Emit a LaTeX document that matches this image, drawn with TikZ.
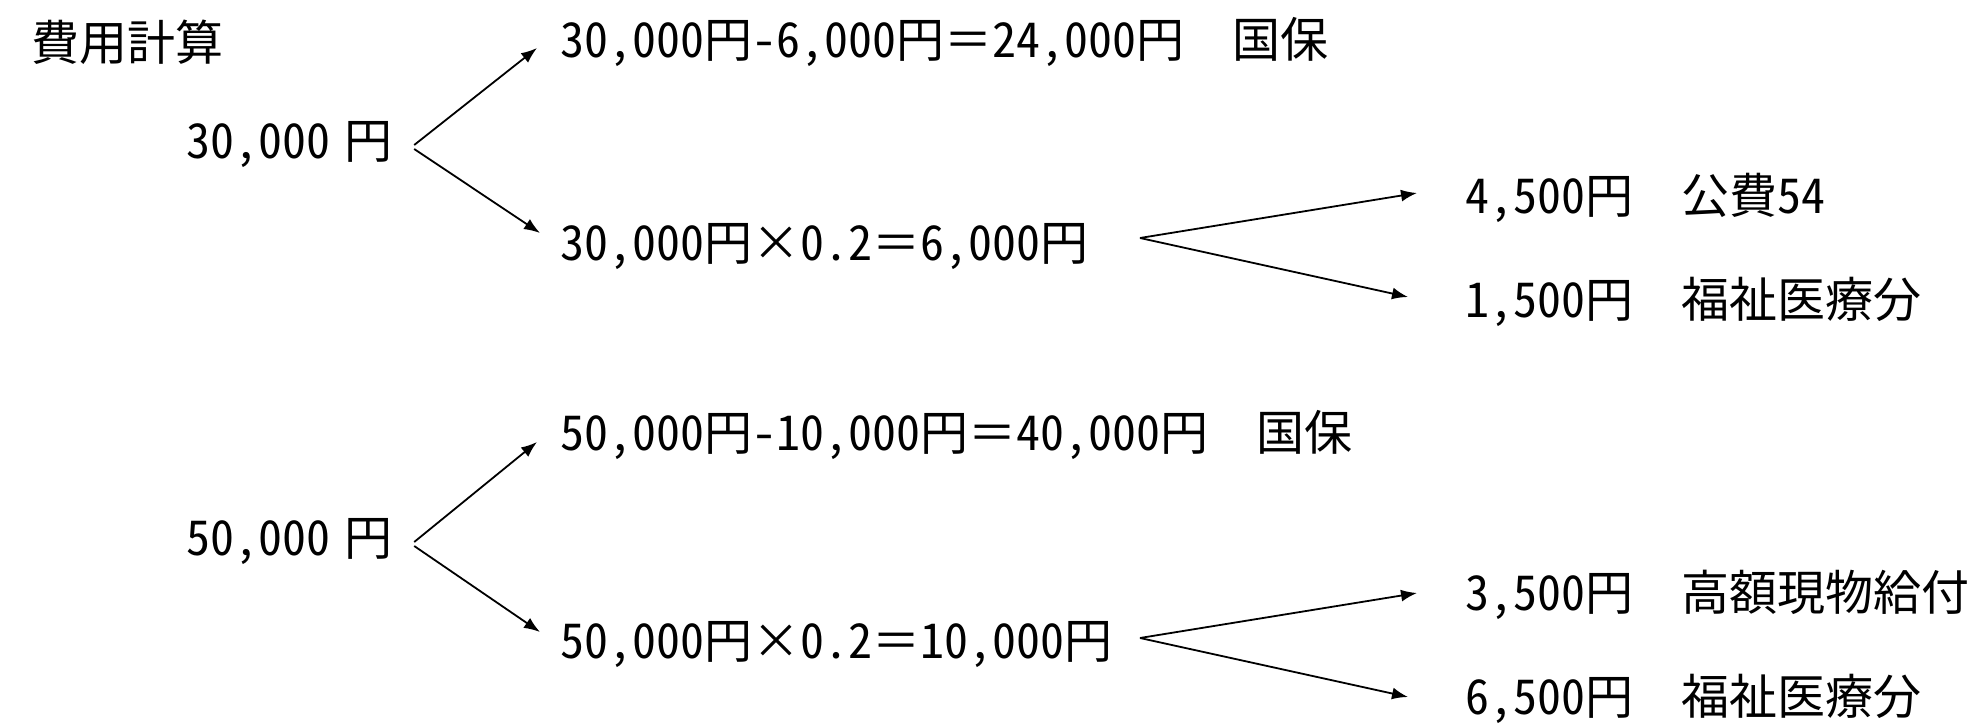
\documentclass[tikz,border=0pt]{standalone}
\usepackage{fontspec}
\setmainfont{Noto Sans CJK JP}[RawFeature=+hwid]
\newfontfamily\zenkaku{Noto Sans CJK JP}
\newcommand{\zen}[1]{{\zenkaku #1}}
\usetikzlibrary{arrows.meta}

\begin{document}
\begin{tikzpicture}[x=0.5pt,y=-0.5pt,
    txt/.style={anchor=west,inner sep=0pt,font=\fontsize{24pt}{28pt}\selectfont},
    arr/.style={line width=0.9pt,-{Latex[length=8pt,width=6pt]}}]

    \useasboundingbox (0,0) rectangle (1975,726);

    % title
    \node[txt] (title) at (31,42) {費用計算};

    % first case: 30,000 yen
    \node[txt] (base1) at (186,145) {30,000\hspace{0.3em}円};
    \node[txt] (kokuho1) at (560,42) {30,000円-6,000円\zen{＝}24,000円\zen{　}国保};
    \node[txt] (futan1) at (560,247) {30,000円\zen{×}0.2\zen{＝}6,000円};
    \node[txt] (kohi1) at (1465,198) {4,500円\zen{　}公費54};
    \node[txt] (fukushi1) at (1465,302) {1,500円\zen{　}福祉医療分};
    \coordinate (split1) at (1140,238);

    \draw[arr] ([shift={(21,0)}]base1.east) -- ([shift={(-23,6)}]kokuho1.west);
    \draw[arr] ([shift={(21,4)}]base1.east) -- ([shift={(-20,-14)}]futan1.west);
    \draw[arr] (split1) -- ([shift={(-48,-5)}]kohi1.west);
    \draw[arr] (split1) -- ([shift={(-57,-5)}]fukushi1.west);

    % second case: 50,000 yen
    \node[txt] (base2) at (186,542) {50,000\hspace{0.3em}円};
    \node[txt] (kokuho2) at (560,435) {50,000円-10,000円\zen{＝}40,000円\zen{　}国保};
    \node[txt] (futan2) at (560,645) {50,000円\zen{×}0.2\zen{＝}10,000円};
    \node[txt] (kogaku2) at (1465,595) {3,500円\zen{　}高額現物給付};
    \node[txt] (fukushi2) at (1465,699) {6,500円\zen{　}福祉医療分};
    \coordinate (split2) at (1140,638);

    \draw[arr] ([shift={(21,0)}]base2.east) -- ([shift={(-23,7)}]kokuho2.west);
    \draw[arr] ([shift={(21,4)}]base2.east) -- ([shift={(-20,-13)}]futan2.west);
    \draw[arr] (split2) -- ([shift={(-48,-2)}]kogaku2.west);
    \draw[arr] (split2) -- ([shift={(-57,-2)}]fukushi2.west);

\end{tikzpicture}
\end{document}
